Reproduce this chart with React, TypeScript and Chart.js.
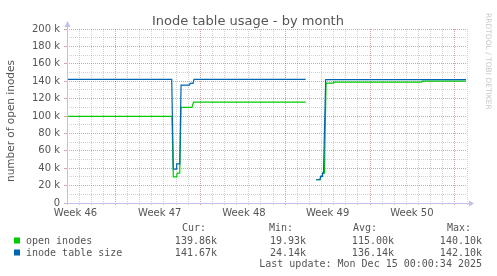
import React, { useEffect, useRef } from 'react';
import { Chart, registerables } from 'chart.js';

Chart.register(...registerables);

const W = 497;
const H = 276;

const chartTitle = 'Inode table usage - by month';
const yAxisTitle = 'number of open inodes';
const sideNote = 'RRDTOOL / TOBI OETIKER';

// x axis: days since start of the 33-day window
const xMaxDays = 33;
const dayGridDays = Array.from({ length: 34 }, (_, i) => i);
const weekStartDays = [4, 11, 18, 25, 32];
const weekLabels = ['Week 46', 'Week 47', 'Week 48', 'Week 49', 'Week 50'];
const weekLabelDays = [0.7, 7.65, 14.6, 21.5, 28.45];

// y axis
const yMax = 200000;
const yTickValues = Array.from({ length: 21 }, (_, i) => i * 10000);

// series: open inodes (green)
const openInodesDays = [0, 8.66, 8.77, 9.05, 9.09, 9.3, 9.41, 10.31, 10.44, 19.69, 20.1, 20.54, 20.87, 20.93, 21.06, 21.09, 21.24, 21.37, 21.95, 21.99, 29.26, 29.31, 32.92];
const openInodesValues = [99500, 99500, 30000, 30000, 34400, 34400, 110000, 110000, 116000, 116000, null, 26700, 26700, 30500, 30500, 34400, 34400, 137700, 137700, 138900, 138900, 140100, 140100];

// series: inode table size (blue)
const tableSizeDays = [0, 8.64, 8.77, 9.02, 9.05, 9.3, 9.41, 10.11, 10.15, 10.4, 10.48, 19.69, 20.1, 20.54, 20.87, 20.93, 21.04, 21.07, 21.16, 21.34, 32.92];
const tableSizeValues = [142100, 142100, 39000, 39000, 45000, 45000, 135500, 135500, 137500, 137500, 142000, 142000, null, 26700, 26700, 30500, 30500, 34400, 34400, 141700, 141700];

// legend table
const seriesNames = ['open inodes', 'inode table size'];
const seriesColors = ['#00cc00', '#0066b3'];
const curValues = ['139.86k', '141.67k'];
const minValues = ['19.93k', '24.14k'];
const avgValues = ['115.00k', '136.14k'];
const maxValues = ['140.10k', '142.10k'];
const lastUpdate = 'Last update: Mon Dec 15 00:00:34 2025';

const GRID_MINOR = 'rgba(140,140,140,0.4)';
const GRID_MAJOR = 'rgba(150,30,30,0.4)';
const AXIS_COLOR = '#c0c0ec';
const TEXT = '#555555';
const SANS = '"DejaVu Sans", sans-serif';
const MONO = '"DejaVu Sans Mono", monospace';

const toPoints = (days: number[], values: (number | null)[]) =>
  days.map((d, i) => ({ x: d, y: values[i] }));

const xGridColor = (v: number) => {
  if (weekLabelDays.includes(v)) return 'rgba(0,0,0,0)';
  if (weekStartDays.includes(v)) return GRID_MAJOR;
  return GRID_MINOR;
};

const decorPlugin = {
  id: 'decor',
  beforeDraw(chart: any) {
    const ctx = chart.ctx;
    ctx.save();
    ctx.fillStyle = '#ffffff';
    ctx.fillRect(0, 0, chart.width, chart.height);
    ctx.restore();
  },
  afterDraw(chart: any) {
    const ctx: CanvasRenderingContext2D = chart.ctx;
    const a = chart.chartArea;
    ctx.save();
    // axes with arrows
    const ax = Math.round(a.left) + 0.5;
    const ay = Math.round(a.bottom) + 0.5;
    ctx.strokeStyle = AXIS_COLOR;
    ctx.fillStyle = AXIS_COLOR;
    ctx.lineWidth = 1;
    ctx.beginPath();
    ctx.moveTo(ax, ay);
    ctx.lineTo(ax, a.top - 3);
    ctx.moveTo(a.left - 1, ay);
    ctx.lineTo(a.right + 4, ay);
    ctx.stroke();
    ctx.beginPath();
    ctx.moveTo(ax - 3, a.top - 2);
    ctx.lineTo(ax + 3, a.top - 2);
    ctx.lineTo(ax, a.top - 8);
    ctx.closePath();
    ctx.fill();
    ctx.beginPath();
    ctx.moveTo(a.right + 2, ay - 3);
    ctx.lineTo(a.right + 2, ay + 3);
    ctx.lineTo(a.right + 7, ay);
    ctx.closePath();
    ctx.fill();

    // title
    ctx.fillStyle = TEXT;
    ctx.font = `13px ${SANS}`;
    ctx.textAlign = 'center';
    ctx.textBaseline = 'alphabetic';
    ctx.fillText(chartTitle, 248, 25);

    // y axis title
    ctx.save();
    ctx.translate(11.5, 121);
    ctx.rotate(-Math.PI / 2);
    ctx.font = `10.5px ${SANS}`;
    ctx.textAlign = 'center';
    ctx.textBaseline = 'middle';
    ctx.fillText(yAxisTitle, 0, 0);
    ctx.restore();

    // side note
    ctx.save();
    ctx.translate(487.5, 13);
    ctx.rotate(Math.PI / 2);
    ctx.font = `7.5px ${SANS}`;
    ctx.fillStyle = '#c8c8c8';
    ctx.textAlign = 'left';
    ctx.textBaseline = 'middle';
    ctx.fillText(sideNote, 0, 0);
    ctx.restore();

    // legend table
    ctx.font = `10px ${MONO}`;
    ctx.fillStyle = TEXT;
    ctx.textBaseline = 'alphabetic';
    ctx.textAlign = 'left';
    ctx.fillText('Cur:', 182, 231);
    ctx.fillText('Min:', 269, 231);
    ctx.fillText('Avg:', 353, 231);
    ctx.fillText('Max:', 447, 231);
    const rowBase = [243.5, 255.5];
    seriesNames.forEach((name, i) => {
      const b = rowBase[i];
      ctx.fillStyle = seriesColors[i];
      ctx.fillRect(14, b - 6, 6, 6);
      ctx.fillStyle = TEXT;
      ctx.textAlign = 'left';
      ctx.fillText(name, 26, b);
      ctx.textAlign = 'right';
      ctx.fillText(curValues[i], 217, b);
      ctx.fillText(minValues[i], 306, b);
      ctx.fillText(avgValues[i], 394, b);
      ctx.fillText(maxValues[i], 482, b);
    });
    ctx.textAlign = 'right';
    ctx.fillText(lastUpdate, 482, 267);
    ctx.restore();
  },
};

export default function App() {
  const ref = useRef<HTMLCanvasElement>(null);

  useEffect(() => {
    if (!ref.current) return;
    const chart = new Chart(ref.current, {
      type: 'line',
      data: {
        datasets: [
          {
            label: seriesNames[1],
            data: toPoints(tableSizeDays, tableSizeValues) as any,
            borderColor: seriesColors[1],
            backgroundColor: seriesColors[1],
            borderWidth: 1.2,
            pointRadius: 0,
            tension: 0,
            spanGaps: false,
            fill: false,
          },
          {
            label: seriesNames[0],
            data: toPoints(openInodesDays, openInodesValues) as any,
            borderColor: seriesColors[0],
            backgroundColor: seriesColors[0],
            borderWidth: 1.2,
            pointRadius: 0,
            tension: 0,
            spanGaps: false,
            fill: false,
          },
        ],
      },
      options: {
        responsive: false,
        animation: false,
        devicePixelRatio: 1,
        layout: { padding: { top: 29, right: 30, left: 0, bottom: 0 } },
        plugins: {
          legend: { display: false },
          title: { display: false },
          tooltip: { enabled: false },
        },
        scales: {
          x: {
            type: 'linear',
            min: 0,
            max: xMaxDays,
            afterBuildTicks: (s: any) => {
              s.ticks = [...dayGridDays, ...weekLabelDays]
                .sort((p, q) => p - q)
                .map((v) => ({ value: v }));
            },
            afterFit: (s: any) => {
              s.height = H - 203;
            },
            ticks: {
              autoSkip: false,
              maxRotation: 0,
              minRotation: 0,
              padding: 2,
              color: TEXT,
              font: { family: 'DejaVu Sans', size: 10 },
              callback: (v: any) => {
                const i = weekLabelDays.indexOf(Number(v));
                return i >= 0 ? weekLabels[i] : '';
              },
            },
            grid: {
              color: (c: any) => (c.tick ? xGridColor(c.tick.value) : 'rgba(0,0,0,0)'),
              tickColor: (c: any) => (c.tick ? xGridColor(c.tick.value) : 'rgba(0,0,0,0)'),
              tickLength: 2,
              lineWidth: 1,
            },
            border: { display: false, dash: [1, 1] },
          },
          y: {
            type: 'linear',
            min: 0,
            max: yMax,
            afterBuildTicks: (s: any) => {
              s.ticks = yTickValues.map((v) => ({ value: v }));
            },
            afterFit: (s: any) => {
              s.width = 67;
            },
            ticks: {
              autoSkip: false,
              padding: 4,
              color: TEXT,
              font: { family: 'DejaVu Sans', size: 10 },
              callback: (v: any) => {
                const n = Number(v);
                if (n % 20000 !== 0) return '';
                return n === 0 ? '0' : `${n / 1000} k`;
              },
            },
            grid: {
              color: (c: any) =>
                c.tick ? (c.tick.value % 20000 === 0 ? GRID_MAJOR : GRID_MINOR) : 'rgba(0,0,0,0)',
              tickColor: (c: any) =>
                c.tick && c.tick.value % 20000 === 0 ? GRID_MAJOR : 'rgba(0,0,0,0)',
              tickLength: 3,
              lineWidth: 1,
            },
            border: { display: false, dash: [1, 1] },
          },
        },
      },
      plugins: [decorPlugin],
    } as any);
    return () => chart.destroy();
  }, []);

  return (
    <div style={{ position: 'absolute', left: 0, top: 0, width: W, height: H, background: '#fff' }}>
      <canvas ref={ref} width={W} height={H} style={{ display: 'block', width: W, height: H }} />
    </div>
  );
}
